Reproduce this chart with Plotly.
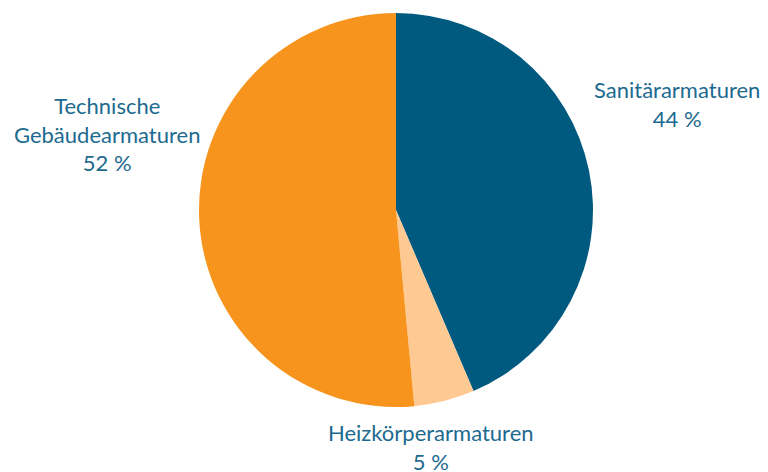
import plotly.graph_objects as go

labels = ["Sanitärarmaturen", "Heizkörperarmaturen", "Technische Gebäudearmaturen"]
label_text = ["Sanitärarmaturen<br>44 %", "Heizkörperarmaturen<br>5 %", "Technische<br>Gebäudearmaturen<br>52 %"]
values = [44, 5, 52]
colors = ["#005A80", "#FFC993", "#F7941D"]

# page has an 8px body margin; figure coordinates = page coordinates - 8
OFF = 8
W, H = 768, 472


def px(x):
    return (x - OFF) / W


def py(y):
    return 1 - (y - OFF) / H


fig = go.Figure(go.Pie(
    labels=labels, values=values, sort=False, direction="clockwise", rotation=0,
    marker=dict(colors=colors, line=dict(width=0)),
    textinfo="none", hoverinfo="label+percent", showlegend=False,
    domain=dict(x=[px(199), px(593)], y=[py(407), py(13)]),
))

# label positions (page px centre)
pos = [(677, 104), (431, 447), (107, 134)]
for txt, (x, y) in zip(label_text, pos):
    fig.add_annotation(x=px(x), y=py(y), xref="paper", yref="paper", text=txt,
                       showarrow=False, xanchor="center", yanchor="middle", align="center",
                       font=dict(family="Lato", size=22, color="#1D6A8F"))

fig.update_layout(width=W, height=H, margin=dict(l=0, r=0, t=0, b=0),
                  paper_bgcolor="white", plot_bgcolor="white")
fig.write_html("out.html")
